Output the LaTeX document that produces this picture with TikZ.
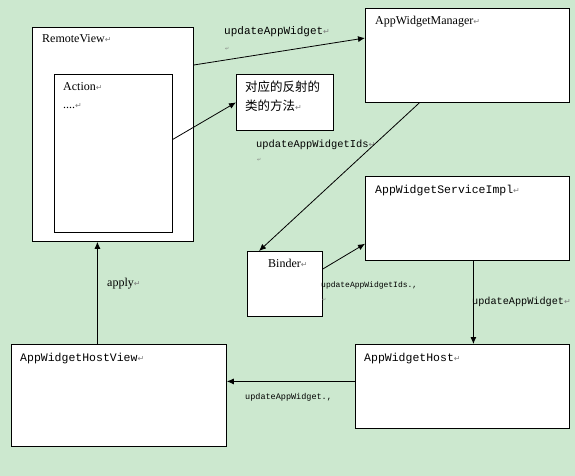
\documentclass[tikz,border=0pt]{standalone}
\usepackage{fontspec}
\usepackage{tikz}
\usetikzlibrary{arrows.meta}
\setmainfont{Liberation Serif}
\setmonofont{Liberation Mono}
\newfontfamily\cjk{Noto Sans CJK SC}
\newfontfamily\symfont{DejaVu Sans}
\definecolor{bggreen}{RGB}{204,232,207}
\definecolor{markgray}{RGB}{128,128,128}
\newcommand\pmark{{\symfont\color{markgray}\fontsize{8}{8}\selectfont ↵}}
\newcommand\tinymark{{\symfont\color{markgray}\fontsize{5}{5}\selectfont ↵}}

\begin{document}
\begin{tikzpicture}[x=1pt,y=-1pt,>={Latex[length=7pt,width=6pt]},
  box/.style={draw,fill=white,line width=0.8pt,anchor=north west,inner sep=0pt},
  intext/.style={anchor=north west,inner sep=0pt,align=left},
  arrowtext/.style={anchor=west,inner sep=0pt,font=\ttfamily\fontsize{11}{13}\selectfont}]
% background
\fill[bggreen] (0,0) rectangle (575,476);
\useasboundingbox (0,0) rectangle (575,476);

% nodes
\node[box,minimum width=161pt,minimum height=214pt] (RV) at (32,27)
  [label={[intext,xshift=10pt,yshift=-7pt,font=\fontsize{12}{14}\selectfont]north west:RemoteView\pmark}] {};
\node[box,minimum width=118pt,minimum height=158pt] (Act) at (54,74)
  [label={[intext,xshift=9pt,yshift=-8pt,font=\fontsize{12}{18}\selectfont]north west:{Action\pmark\\....\pmark}}] {};
\node[box,minimum width=97pt,minimum height=56pt] (Refl) at (236,74)
  [label={[intext,xshift=9pt,yshift=-7pt,font=\cjk\fontsize{12.5}{19}\selectfont]north west:{对应的反射的\\类的方法\pmark}}] {};
\node[box,minimum width=204pt,minimum height=94pt] (AWM) at (365,8)
  [label={[intext,xshift=10pt,yshift=-8pt,font=\fontsize{12}{14}\selectfont]north west:AppWidgetManager\pmark}] {};
\node[box,minimum width=204pt,minimum height=84pt] (AWSI) at (365,176)
  [label={[intext,xshift=10pt,yshift=-9pt,font=\ttfamily\fontsize{11.5}{14}\selectfont]north west:AppWidgetServiceImpl\pmark}] {};
\node[box,minimum width=75pt,minimum height=65pt] (Binder) at (247,251)
  [label={[intext,xshift=21pt,yshift=-8pt,font=\fontsize{12}{14}\selectfont]north west:Binder\pmark}] {};
\node[box,minimum width=215pt,minimum height=102pt] (AWHV) at (11,344)
  [label={[intext,xshift=9pt,yshift=-9pt,font=\ttfamily\fontsize{11.5}{14}\selectfont]north west:AppWidgetHostView\pmark}] {};
\node[box,minimum width=214pt,minimum height=84pt] (AWH) at (355,344)
  [label={[intext,xshift=9pt,yshift=-9pt,font=\ttfamily\fontsize{11.5}{14}\selectfont]north west:AppWidgetHost\pmark}] {};

% labels
\node[arrowtext] (l1) at (224,32) {updateAppWidget\pmark};
\node[anchor=west,inner sep=0pt] (m1) at (225,49) {\tinymark};
\node[arrowtext,font=\ttfamily\fontsize{10.4}{12}\selectfont] (l2) at (256,145) {updateAppWidgetIds\pmark};
\node[anchor=west,inner sep=0pt] (m2) at (257,160) {\tinymark};
\node[arrowtext,font=\ttfamily\fontsize{8}{10}\selectfont] (l3) at (321,285) {updateAppWidgetIds.,};
\node[anchor=west,inner sep=0pt] (m3) at (322,300) {\tinymark};
\node[arrowtext,font=\ttfamily\fontsize{10.2}{12}\selectfont] (l4) at (472,302) {updateAppWidget\pmark};
\node[arrowtext,font=\ttfamily\fontsize{8.5}{10}\selectfont] (l5) at (245,397) {updateAppWidget.,};
\node[anchor=west,inner sep=0pt,font=\fontsize{12}{14}\selectfont] (l6) at (107,284) {apply\pmark};

% arrows
\draw [->,line width=0.8pt] ([yshift=-38pt]RV.north east)--([yshift=-30pt]AWM.north west);
\draw [->,line width=0.8pt] ([yshift=14pt]Act.east)--(Refl.west);
\draw [->,line width=0.8pt] ([xshift=-48pt]AWM.south)--([xshift=12pt]Binder.north west);
\draw [->,line width=0.8pt] ([yshift=-18pt]Binder.north east)--([yshift=17pt]AWSI.south west);
\draw [->,line width=0.8pt] ([xshift=6pt]AWSI.south)--([xshift=6pt]AWSI.south |- AWH.north);
\draw [->,line width=0.8pt] ([yshift=5pt]AWH.west)--([yshift=5pt]AWH.west -| AWHV.east);
\draw [->,line width=0.8pt] ([xshift=-21.5pt]AWHV.north)--([xshift=-21.5pt]AWHV.north |- RV.south);
\end{tikzpicture}
\end{document}
